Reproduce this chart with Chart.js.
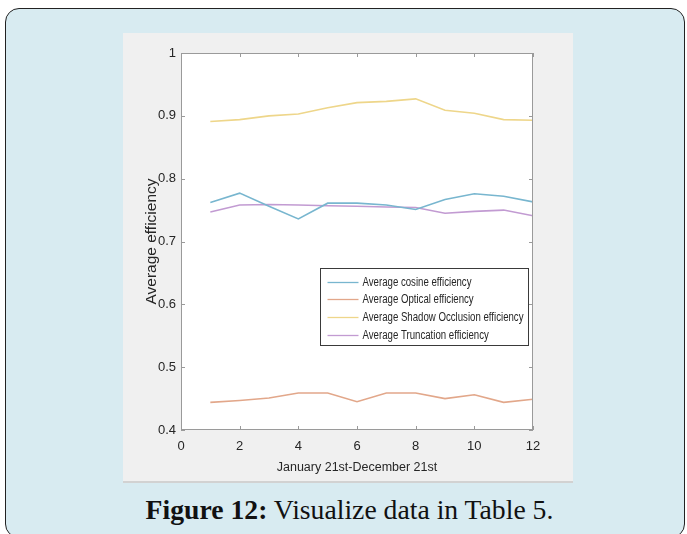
<!DOCTYPE html>
<html><head><meta charset="utf-8">
<script src="https://cdn.jsdelivr.net/npm/chart.js@4"></script>
<style>
html,body{margin:0;padding:0;background:#fff;width:687px;height:534px;overflow:hidden;}
#frame{position:absolute;left:5px;top:8px;width:680px;height:530px;background:#d8ebf1;border:1.5px solid #222;border-radius:14px;box-sizing:border-box;}
#panel{position:absolute;left:123px;top:33px;width:450px;height:450px;background:#f0f0f0;border-bottom:2px solid #d2d2d2;box-sizing:border-box;}
#c{position:absolute;left:123px;top:33px;}
#cap{position:absolute;left:6px;width:687px;top:496px;line-height:28px;text-align:center;font-family:'Liberation Serif','Times New Roman',serif;font-size:27.7px;color:#111;white-space:nowrap;}
</style>
</head><body>
<div id="frame"></div>
<div id="panel"></div>
<canvas id="c" width="450" height="450"></canvas>
<div id="cap"><b>Figure 12:</b> Visualize data in Table 5.</div>
<script>
const months = [1,2,3,4,5,6,7,8,9,10,11,12];
const cosineEff     = [0.762,0.777,0.756,0.736,0.761,0.761,0.758,0.751,0.767,0.776,0.772,0.763];
const opticalEff    = [0.444,0.447,0.451,0.459,0.459,0.445,0.459,0.459,0.450,0.456,0.444,0.449];
const shadowEff     = [0.891,0.894,0.900,0.903,0.913,0.921,0.923,0.927,0.909,0.904,0.894,0.893];
const truncationEff = [0.747,0.758,0.759,0.758,0.757,0.756,0.755,0.754,0.745,0.748,0.750,0.741];
const seriesLabels = ['Average cosine efficiency','Average Optical efficiency','Average Shadow Occlusion efficiency','Average Truncation efficiency'];
const seriesColors = ['#78b6cf','#e2a78a','#eed68a','#c29bd2'];
const xTickValues = [0,2,4,6,8,10,12];
const yTickValues = [0.4,0.5,0.6,0.7,0.8,0.9,1];
const xTitle = 'January 21st-December 21st';
const yTitle = 'Average efficiency';

const allSeries = [cosineEff, opticalEff, shadowEff, truncationEff];
const datasets = allSeries.map((arr,i)=>({
  label: seriesLabels[i],
  data: arr.map((v,j)=>({x:months[j], y:v})),
  borderColor: seriesColors[i],
  backgroundColor: seriesColors[i],
  borderWidth: 1.6,
  pointRadius: 0,
  tension: 0,
  fill: false
}));

const SANS = "'Liberation Sans',Arial,sans-serif";

const bgPlugin = {
  id:'bgPlugin',
  beforeDraw(chart){
    const {ctx, chartArea:a} = chart;
    ctx.save();
    ctx.fillStyle = '#ffffff';
    ctx.fillRect(a.left, a.top, a.right-a.left, a.bottom-a.top);
    ctx.restore();
  }
};

const boxPlugin = {
  id:'boxPlugin',
  afterDraw(chart){
    const {ctx, chartArea:a, scales} = chart;
    ctx.save();
    ctx.strokeStyle = '#9a9a9a';
    ctx.lineWidth = 1;
    ctx.strokeRect(Math.round(a.left)+0.5, Math.round(a.top)+0.5, Math.round(a.right-a.left)-1, Math.round(a.bottom-a.top)-1);
    const tl = 4;
    ctx.beginPath();
    scales.x.ticks.forEach(t=>{
      const px = Math.round(scales.x.getPixelForValue(t.value))+0.5;
      ctx.moveTo(px, a.bottom); ctx.lineTo(px, a.bottom-tl);
      ctx.moveTo(px, a.top); ctx.lineTo(px, a.top+tl);
    });
    scales.y.ticks.forEach(t=>{
      const py = Math.round(scales.y.getPixelForValue(t.value))+0.5;
      ctx.moveTo(a.left, py); ctx.lineTo(a.left+tl, py);
      ctx.moveTo(a.right, py); ctx.lineTo(a.right-tl, py);
    });
    ctx.stroke();

    // legend box
    const w = 208, h = 77;
    const x = Math.round(a.right - 5 - w) + 0.5;
    const y = Math.round(a.top + 215) + 0.5;
    ctx.fillStyle = '#ffffff';
    ctx.fillRect(x, y, w, h);
    ctx.strokeStyle = '#3a3a3a';
    ctx.strokeRect(x, y, w, h);
    const rowY = [13, 30.7, 48.4, 66];
    ctx.font = '12px ' + SANS;
    ctx.textBaseline = 'middle';
    ctx.textAlign = 'left';
    const labels = chart.data.datasets.map(d=>d.label);
    const maxW = Math.max(...labels.map(l=>ctx.measureText(l).width));
    const sx = 161 / maxW;
    chart.data.datasets.forEach((ds,i)=>{
      const ry = Math.round(y + rowY[i]) + 0.5;
      ctx.strokeStyle = ds.borderColor;
      ctx.lineWidth = 1.3;
      ctx.beginPath(); ctx.moveTo(x+7, ry); ctx.lineTo(x+38, ry); ctx.stroke();
      ctx.save();
      ctx.translate(x+42, ry);
      ctx.scale(sx, 1);
      ctx.fillStyle = '#262626';
      ctx.fillText(ds.label, 0, 0);
      ctx.restore();
    });
    ctx.restore();
  }
};

new Chart(document.getElementById('c'), {
  type:'line',
  data:{datasets},
  options:{
    responsive:false,
    animation:false,
    events:[],
    layout:{padding:{left:0,top:20,right:40,bottom:0}},
    plugins:{legend:{display:false}, tooltip:{enabled:false}},
    scales:{
      x:{
        type:'linear', min:0, max:12,
        afterBuildTicks(s){ s.ticks = xTickValues.map(v=>({value:v})); },
        afterFit(s){ s.height = 53; },
        grid:{display:true, drawOnChartArea:false, drawTicks:false},
        border:{display:false},
        ticks:{padding:9, color:'#262626', font:{family:SANS, size:13}, maxRotation:0, autoSkip:false,
          callback:v=>String(v)},
        title:{display:true, text:xTitle, color:'#262626', font:{family:SANS, size:12.5}, padding:{top:0,bottom:8}}
      },
      y:{
        type:'linear', min:0.4, max:1,
        afterBuildTicks(s){ s.ticks = yTickValues.map(v=>({value:v})); },
        afterFit(s){ s.width = 58; },
        grid:{display:true, drawOnChartArea:false, drawTicks:false},
        border:{display:false},
        ticks:{padding:5, color:'#262626', font:{family:SANS, size:13}, autoSkip:false,
          callback:v=>String(+(+v).toFixed(1))},
        title:{display:true, text:yTitle, color:'#262626', font:{family:SANS, size:15.5}, padding:{top:19,bottom:0}}
      }
    }
  },
  plugins:[bgPlugin, boxPlugin]
});
</script>
</body></html>
